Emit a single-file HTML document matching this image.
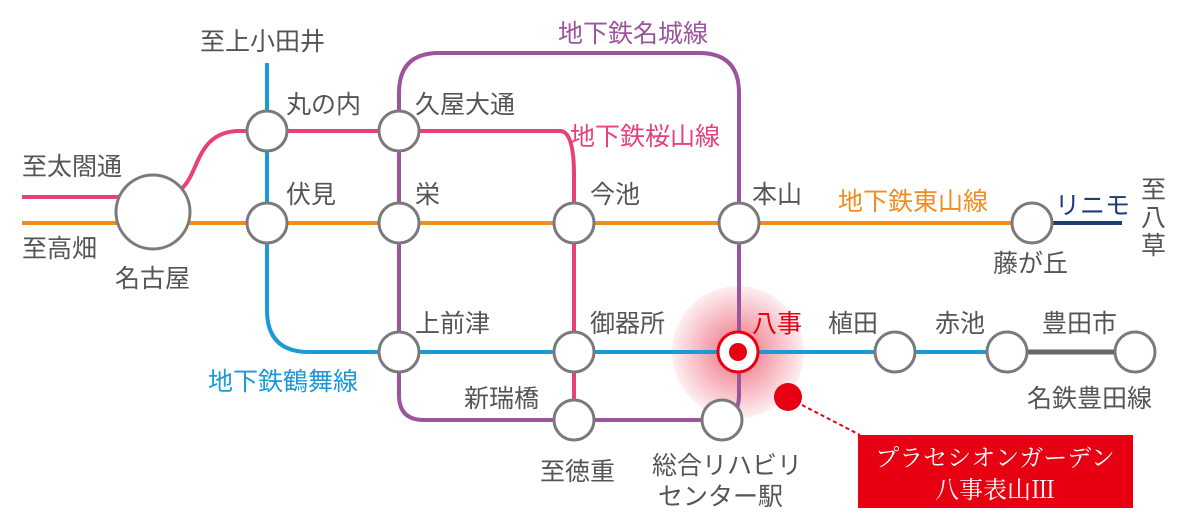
<!DOCTYPE html>
<html><head><meta charset="utf-8"><style>
body{margin:0;background:#fff}
svg{display:block}
text{font-family:"Liberation Sans","Noto Sans CJK JP",sans-serif;font-size:25px;fill:#555}
</style></head><body>
<svg width="1200" height="527" viewBox="0 0 1200 527">
<defs><radialGradient id="g"><stop offset="0" stop-color="#e83a50" stop-opacity="0.75"/><stop offset="1" stop-color="#e83a50" stop-opacity="0.08"/></radialGradient></defs>
<circle cx="738" cy="352" r="66" fill="url(#g)"/>
<g fill="none" stroke-width="4">
<path d="M22 197H120M180 190C200 175 195 131 240 131H560Q574 131 574 175V440" stroke="#e8417a"/>
<path d="M22 223H1020" stroke="#f28c1e"/>
<path d="M1040 223H1122" stroke="#1f3c7a"/>
<path d="M267 63V310Q267 352 309 352H1007" stroke="#1a9ad6"/>
<path d="M1007 352H1135" stroke="#666" stroke-width="5"/>
<path d="M399 352V395Q399 420 424 420H715Q739 420 739 395V93Q739 53 699 53H439Q399 53 399 93V131" stroke="#9c559c"/>
<path d="M399 131V352" stroke="#9c559c"/>
</g>
<g fill="#fff" stroke="#7a7a7a" stroke-width="3">
<circle cx="153" cy="212" r="37"/>
<circle cx="267" cy="131" r="20"/><circle cx="267" cy="223" r="20"/>
<circle cx="399" cy="131" r="20"/><circle cx="399" cy="223" r="20"/>
<circle cx="574" cy="223" r="20"/><circle cx="739" cy="223" r="20"/>
<circle cx="1032" cy="223" r="20"/>
<circle cx="399" cy="352" r="20"/><circle cx="574" cy="352" r="20"/>
<circle cx="895" cy="352" r="20"/><circle cx="1007" cy="352" r="20"/><circle cx="1135" cy="352" r="20"/>
<circle cx="574" cy="420" r="20"/><circle cx="722" cy="420" r="20"/>
</g>
<circle cx="738" cy="352" r="20" fill="#fff" stroke="#e60012" stroke-width="3"/>
<circle cx="738" cy="352" r="9" fill="#e60012"/>
<circle cx="788" cy="397" r="14" fill="#e60012"/>
<path d="M802 405L860 435" stroke="#e60012" stroke-width="2" stroke-dasharray="4 3"/>
<rect x="858" y="435" width="275" height="73" fill="#e60012"/>
<text x="995" y="466" text-anchor="middle" style="fill:#fff;font-family:'Liberation Serif','Noto Serif CJK SC',serif;font-size:24px">プラセシオンガーデン</text>
<text x="995" y="498" text-anchor="middle" style="fill:#fff;font-family:'Liberation Serif','Noto Serif CJK SC',serif;font-size:24px">八事表山Ⅲ</text>
<text x="200" y="50">至上小田井</text>
<text x="22" y="175">至太閤通</text>
<text x="22" y="257">至高畑</text>
<text x="115" y="287">名古屋</text>
<text x="286" y="113">丸の内</text>
<text x="286" y="203">伏見</text>
<text x="415" y="113">久屋大通</text>
<text x="415" y="203">栄</text>
<text x="590" y="203">今池</text>
<text x="752" y="203">本山</text>
<text x="558" y="42" style="fill:#9c559c">地下鉄名城線</text>
<text x="570" y="145" style="fill:#e8417a">地下鉄桜山線</text>
<text x="838" y="210" style="fill:#f28c1e">地下鉄東山線</text>
<text x="1055" y="214" style="fill:#1f3c7a">リニモ</text>
<text x="1141" y="198">至</text><text x="1141" y="226">八</text><text x="1141" y="254">草</text>
<text x="993" y="272">藤が丘</text>
<text x="415" y="332">上前津</text>
<text x="590" y="332">御器所</text>
<text x="752" y="332" style="fill:#e60012">八事</text>
<text x="828" y="332">植田</text>
<text x="935" y="332">赤池</text>
<text x="1042" y="332">豊田市</text>
<text x="1027" y="407">名鉄豊田線</text>
<text x="208" y="390" style="fill:#1a9ad6">地下鉄鶴舞線</text>
<text x="464" y="407">新瑞橋</text>
<text x="540" y="480">至徳重</text>
<text x="652" y="474">総合リハビリ</text>
<text x="658" y="505">センター駅</text>
</svg>
</body></html>
